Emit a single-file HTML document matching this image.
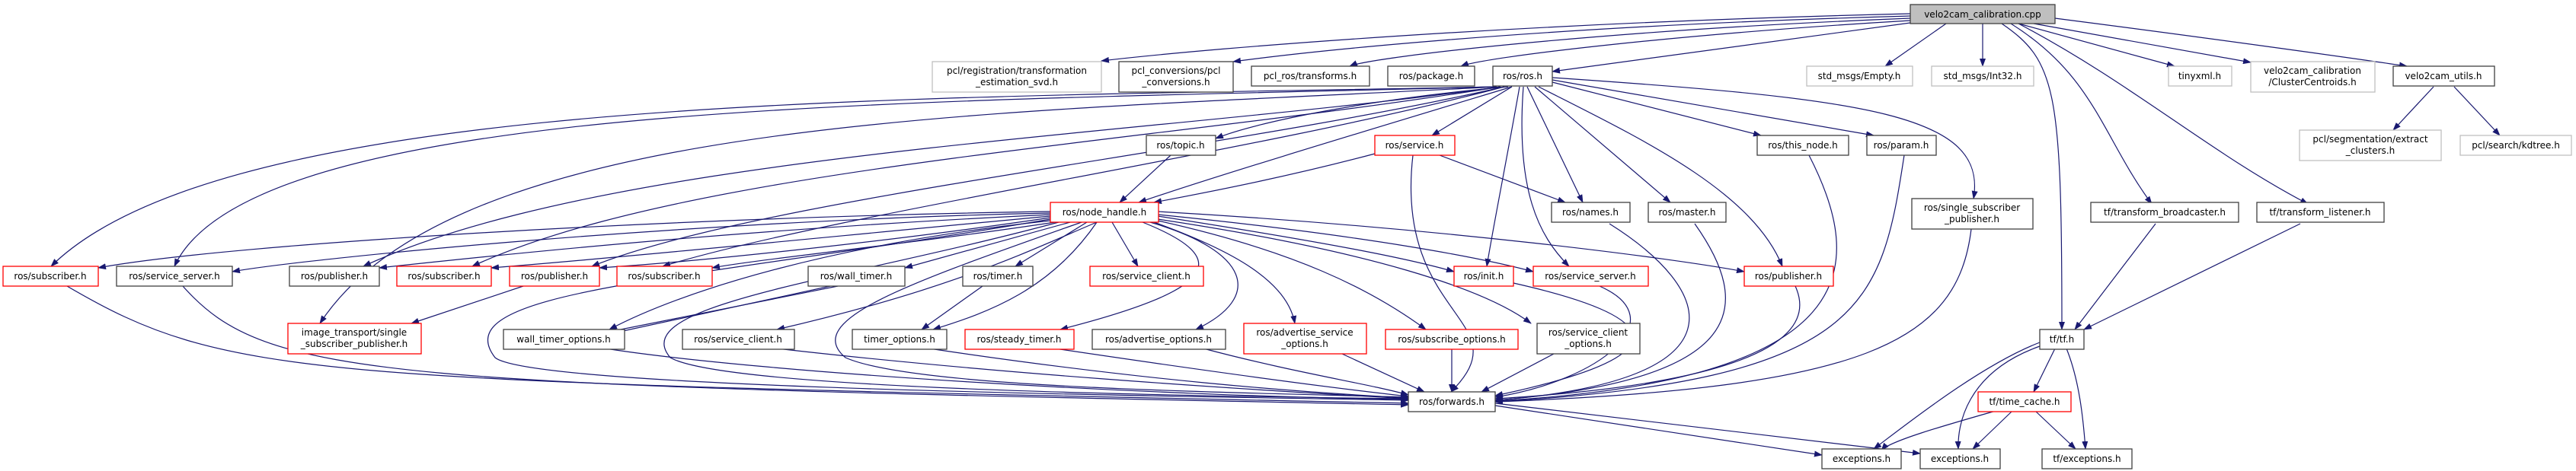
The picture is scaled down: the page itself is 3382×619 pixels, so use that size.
<!DOCTYPE html>
<html><head><meta charset="utf-8"><style>
html,body{margin:0;padding:0;background:#fff;width:3382px;height:619px;overflow:hidden}
svg{display:block}
text{font-family:"DejaVu Sans","Liberation Sans",sans-serif;font-size:12px;fill:#000;text-anchor:middle}
.e{fill:none;stroke:#191970;stroke-width:1.2}
.b{fill:#fff;stroke:#404040;stroke-width:1.3}
.r{fill:#fff;stroke:#ff0000;stroke-width:1.3}
.g{fill:#fff;stroke:#bfbfbf;stroke-width:1.3}
.m{fill:#bfbfbf;stroke:#404040;stroke-width:1.3}
</style></head><body>
<svg width="3382" height="619" viewBox="0 0 3382 619">
<defs><marker id="a" markerWidth="11" markerHeight="8" refX="10" refY="4" orient="auto" markerUnits="userSpaceOnUse"><path d="M0,0 L11,4 L0,8z" fill="#191970"/></marker></defs>
<g class="e" marker-end="url(#a)">
<path d="M2508,18 C2000,30 1600,62 1446,80"/>
<path d="M2508,21 C2000,35 1700,70 1619,81"/>
<path d="M2508,24 C2100,40 1800,75 1772,87"/>
<path d="M2508,27 C2200,45 1950,75 1918,87"/>
<path d="M2508,30 L2038,94"/>
<path d="M2555,31 L2475,87"/>
<path d="M2603,31 L2603,87"/>
<path d="M2628,31 C2700,80 2707,120 2707,433"/>
<path d="M2640,31 C2750,100 2760,180 2825,268"/>
<path d="M2650,31 C2800,110 2900,200 3030,268"/>
<path d="M2650,31 L2855,87"/>
<path d="M2670,31 L2955,82"/>
<path d="M2698,24 C2900,50 3100,78 3160,87"/>
<path d="M3195,114 L3142,171"/>
<path d="M3222,114 L3282,178"/>
<path d="M1965,114 C1200,130 300,120 67,350"/>
<path d="M1965,114 C1200,135 330,130 229,350"/>
<path d="M1965,114 C1300,150 600,150 420,425"/>
<path d="M1970,114 C1500,180 800,200 477,350"/>
<path d="M1970,114 C1500,190 900,220 620,350"/>
<path d="M1975,114 C1600,200 1000,260 777,350"/>
<path d="M1975,114 C1650,200 1100,280 870,350"/>
<path d="M1980,114 C1800,130 1650,160 1596,182"/>
<path d="M1985,114 C1800,170 1600,230 1495,266"/>
<path d="M1985,114 L1880,178"/>
<path d="M1995,114 C1980,200 1960,300 1952,350"/>
<path d="M2000,114 C1990,250 2020,310 2060,350"/>
<path d="M2005,114 L2078,266"/>
<path d="M2015,114 L2193,266"/>
<path d="M2020,114 C2150,180 2300,250 2340,350"/>
<path d="M2038,108 L2312,178"/>
<path d="M2038,105 L2460,178"/>
<path d="M2038,102 C2450,130 2610,150 2591,261"/>
<path d="M1805,202 C1700,230 1600,250 1515,266"/>
<path d="M1890,204 L2055,266"/>
<path d="M1855,204 C1830,420 2000,420 1905,515"/>
<path d="M1537,204 L1470,266"/>
<path d="M1379,278 C900,285 300,320 129,352"/>
<path d="M1379,280 C900,290 400,340 305,357"/>
<path d="M1379,282 C1000,300 700,330 498,352"/>
<path d="M1379,284 C1100,310 800,340 645,352"/>
<path d="M1379,286 C1150,320 900,345 787,352"/>
<path d="M1385,292 C1200,320 1000,340 935,352"/>
<path d="M1405,292 L1188,352"/>
<path d="M1427,292 L1333,350"/>
<path d="M1460,292 L1494,350"/>
<path d="M1440,292 C1350,330 1250,380 1020,433"/>
<path d="M1440,292 C1380,380 1300,410 1225,433"/>
<path d="M1500,292 C1620,340 1600,380 1392,433"/>
<path d="M1510,292 C1640,330 1660,390 1570,433"/>
<path d="M1515,292 C1620,330 1690,370 1700,425"/>
<path d="M1520,290 C1700,330 1800,380 1872,433"/>
<path d="M1520,288 C1800,330 1950,380 2010,425"/>
<path d="M1520,284 C1750,320 1850,340 1909,357"/>
<path d="M1520,282 C1800,310 1950,340 2013,357"/>
<path d="M1520,278 C1900,300 2200,340 2290,357"/>
<path d="M1379,290 C1100,320 900,380 800,433"/>
<path d="M1379,288 C900,370 580,380 650,470 C700,510 1500,520 1849,526"/>
<path d="M1390,292 C1100,370 820,400 880,470 C950,510 1500,520 1849,524"/>
<path d="M1420,292 C1200,370 1050,420 1110,470 C1200,510 1600,515 1849,522"/>
<path d="M1100,376 L800,436"/>
<path d="M1090,376 L795,440"/>
<path d="M1290,376 L1210,433"/>
<path d="M687,376 L540,425"/>
<path d="M88,376 C300,500 400,500 1849,530"/>
<path d="M240,376 C350,500 500,505 1849,532"/>
<path d="M795,458 C1000,490 1500,520 1849,525"/>
<path d="M1020,458 C1300,490 1600,510 1849,524"/>
<path d="M1220,458 C1500,500 1700,515 1849,523"/>
<path d="M1385,458 C1600,490 1750,510 1849,521"/>
<path d="M1580,458 C1700,490 1800,505 1849,519"/>
<path d="M1762,465 L1870,515"/>
<path d="M1906,458 L1906,515"/>
<path d="M2040,465 L1945,515"/>
<path d="M1987,372 C2200,420 2200,470 1963,520"/>
<path d="M2100,376 C2200,420 2100,500 1963,522"/>
<path d="M2357,376 C2400,470 2200,510 1963,524"/>
<path d="M2113,294 C2250,380 2300,500 1963,526"/>
<path d="M2225,294 C2300,400 2300,500 1963,526"/>
<path d="M2375,204 C2450,350 2450,500 1963,527"/>
<path d="M2500,204 C2470,400 2450,500 1963,528"/>
<path d="M2588,301 C2570,450 2450,510 1963,528"/>
<path d="M1963,533 L2392,598"/>
<path d="M1963,530 L2521,596"/>
<path d="M2678,450 C2600,480 2500,560 2460,590"/>
<path d="M2678,455 C2580,490 2570,560 2571,590"/>
<path d="M2698,458 L2670,515"/>
<path d="M2713,458 C2730,500 2735,550 2738,590"/>
<path d="M2620,540 C2550,560 2480,580 2470,592"/>
<path d="M2642,540 L2590,590"/>
<path d="M2672,540 L2725,590"/>
<path d="M2830,294 L2724,433"/>
<path d="M3020,294 L2736,433"/>
</g>
<g>
<rect class="m" x="2508" y="6" width="190" height="25"/><text x="2603" y="23">velo2cam_calibration.cpp</text>
<rect class="g" x="1224" y="81" width="222" height="40"/><text x="1335" y="97">pcl/registration/transformation</text><text x="1335" y="112">_estimation_svd.h</text>
<rect class="b" x="1469" y="81" width="150" height="40"/><text x="1544" y="97">pcl_conversions/pcl</text><text x="1544" y="112">_conversions.h</text>
<rect class="b" x="1643" y="87" width="155" height="26"/><text x="1720" y="104">pcl_ros/transforms.h</text>
<rect class="b" x="1822" y="87" width="114" height="26"/><text x="1879" y="104">ros/package.h</text>
<rect class="b" x="1960" y="87" width="78" height="26"/><text x="1999" y="104">ros/ros.h</text>
<rect class="g" x="2372" y="87" width="139" height="26"/><text x="2441" y="104">std_msgs/Empty.h</text>
<rect class="g" x="2536" y="87" width="134" height="26"/><text x="2603" y="104">std_msgs/Int32.h</text>
<rect class="g" x="2847" y="87" width="83" height="26"/><text x="2888" y="104">tinyxml.h</text>
<rect class="g" x="2955" y="81" width="163" height="40"/><text x="3036" y="97">velo2cam_calibration</text><text x="3036" y="112">/ClusterCentroids.h</text>
<rect class="b" x="3142" y="87" width="133" height="26"/><text x="3208" y="104">velo2cam_utils.h</text>
<rect class="b" x="1505" y="178" width="91" height="26"/><text x="1550" y="195">ros/topic.h</text>
<rect class="r" x="1805" y="178" width="105" height="26"/><text x="1857" y="195">ros/service.h</text>
<rect class="b" x="2307" y="178" width="120" height="26"/><text x="2367" y="195">ros/this_node.h</text>
<rect class="b" x="2451" y="178" width="91" height="26"/><text x="2496" y="195">ros/param.h</text>
<rect class="g" x="3019" y="171" width="186" height="40"/><text x="3112" y="187">pcl/segmentation/extract</text><text x="3112" y="202">_clusters.h</text>
<rect class="g" x="3230" y="178" width="146" height="26"/><text x="3303" y="195">pcl/search/kdtree.h</text>
<rect class="r" x="1379" y="266" width="142" height="26"/><text x="1450" y="283">ros/node_handle.h</text>
<rect class="b" x="2037" y="266" width="103" height="26"/><text x="2088" y="283">ros/names.h</text>
<rect class="b" x="2164" y="266" width="102" height="26"/><text x="2215" y="283">ros/master.h</text>
<rect class="b" x="2510" y="261" width="159" height="40"/><text x="2589" y="277">ros/single_subscriber</text><text x="2589" y="292">_publisher.h</text>
<rect class="b" x="2745" y="266" width="194" height="26"/><text x="2842" y="283">tf/transform_broadcaster.h</text>
<rect class="b" x="2963" y="266" width="167" height="26"/><text x="3046" y="283">tf/transform_listener.h</text>
<rect class="r" x="4" y="350" width="125" height="26"/><text x="66" y="367">ros/subscriber.h</text>
<rect class="b" x="153" y="350" width="152" height="26"/><text x="229" y="367">ros/service_server.h</text>
<rect class="b" x="380" y="350" width="118" height="26"/><text x="439" y="367">ros/publisher.h</text>
<rect class="r" x="521" y="350" width="124" height="26"/><text x="583" y="367">ros/subscriber.h</text>
<rect class="r" x="669" y="350" width="118" height="26"/><text x="728" y="367">ros/publisher.h</text>
<rect class="r" x="810" y="350" width="125" height="26"/><text x="872" y="367">ros/subscriber.h</text>
<rect class="b" x="1061" y="350" width="127" height="26"/><text x="1124" y="367">ros/wall_timer.h</text>
<rect class="b" x="1264" y="350" width="92" height="26"/><text x="1310" y="367">ros/timer.h</text>
<rect class="r" x="1431" y="350" width="149" height="26"/><text x="1505" y="367">ros/service_client.h</text>
<rect class="r" x="1909" y="350" width="78" height="26"/><text x="1948" y="367">ros/init.h</text>
<rect class="r" x="2013" y="350" width="151" height="26"/><text x="2088" y="367">ros/service_server.h</text>
<rect class="r" x="2290" y="350" width="117" height="26"/><text x="2348" y="367">ros/publisher.h</text>
<rect class="r" x="378" y="425" width="175" height="40"/><text x="465" y="441">image_transport/single</text><text x="465" y="456">_subscriber_publisher.h</text>
<rect class="b" x="661" y="433" width="159" height="26"/><text x="740" y="450">wall_timer_options.h</text>
<rect class="b" x="896" y="433" width="147" height="26"/><text x="969" y="450">ros/service_client.h</text>
<rect class="b" x="1119" y="433" width="124" height="26"/><text x="1181" y="450">timer_options.h</text>
<rect class="r" x="1267" y="433" width="143" height="26"/><text x="1338" y="450">ros/steady_timer.h</text>
<rect class="b" x="1434" y="433" width="175" height="26"/><text x="1521" y="450">ros/advertise_options.h</text>
<rect class="r" x="1633" y="425" width="161" height="40"/><text x="1713" y="441">ros/advertise_service</text><text x="1713" y="456">_options.h</text>
<rect class="r" x="1819" y="433" width="174" height="26"/><text x="1906" y="450">ros/subscribe_options.h</text>
<rect class="b" x="2018" y="425" width="135" height="40"/><text x="2085" y="441">ros/service_client</text><text x="2085" y="456">_options.h</text>
<rect class="b" x="2678" y="433" width="58" height="26"/><text x="2707" y="450">tf/tf.h</text>
<rect class="b" x="1849" y="515" width="114" height="26"/><text x="1906" y="532">ros/forwards.h</text>
<rect class="r" x="2597" y="515" width="122" height="26"/><text x="2658" y="532">tf/time_cache.h</text>
<rect class="b" x="2392" y="590" width="104" height="26"/><text x="2444" y="607">exceptions.h</text>
<rect class="b" x="2521" y="590" width="105" height="26"/><text x="2573" y="607">exceptions.h</text>
<rect class="b" x="2681" y="590" width="118" height="26"/><text x="2740" y="607">tf/exceptions.h</text>
</g>
</svg>
</body></html>
